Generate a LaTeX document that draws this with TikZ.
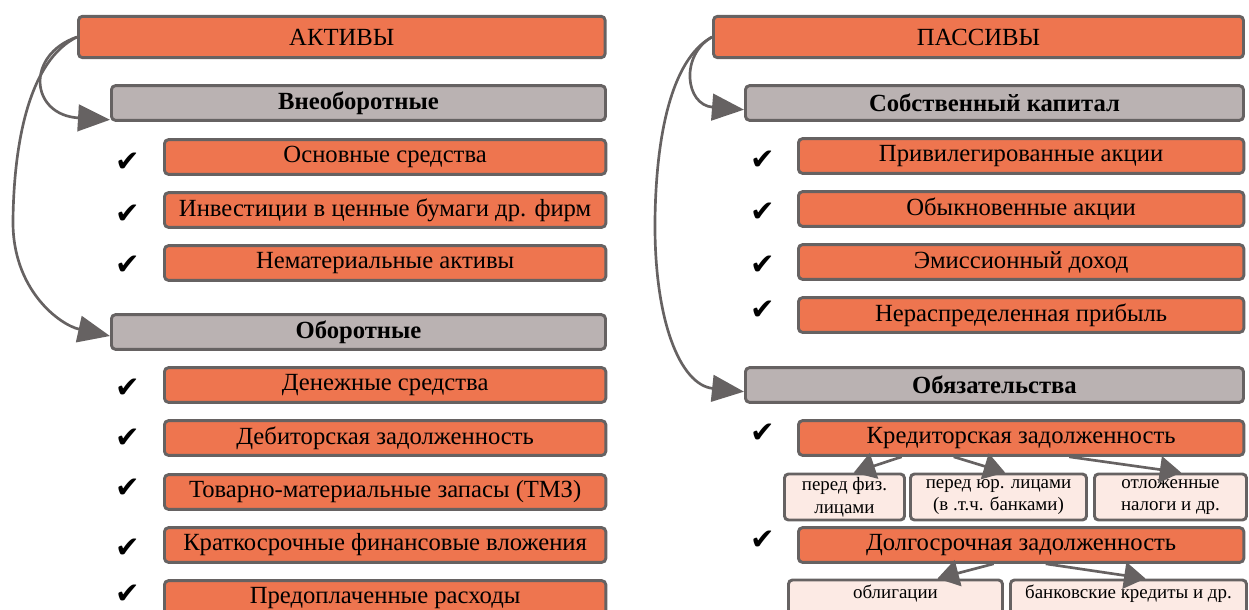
\documentclass[tikz,border=0pt]{standalone}
\usepackage{fontspec}
\setmainfont{Liberation Serif}
\newfontfamily\tickfont{DejaVu Sans}
\usetikzlibrary{arrows.meta}

\definecolor{boxorange}{RGB}{238,117,79}
\definecolor{boxgrey}{RGB}{186,178,178}
\definecolor{boxpink}{RGB}{252,234,228}
\definecolor{edgegrey}{RGB}{102,98,98}

\tikzset{
  basebox/.style={draw=edgegrey, line width=2.2pt, rounded corners=3pt, anchor=west,
    inner sep=0pt, minimum height=26pt},
  titlebox/.style={basebox, fill=boxorange, minimum height=31pt, font=\fontsize{18.5}{22}\selectfont},
  itembox/.style={basebox, fill=boxorange, font=\fontsize{18.5}{22}\selectfont},
  headbox/.style={basebox, fill=boxgrey, font=\fontsize{18.5}{22}\selectfont\bfseries},
  subbox/.style={basebox, fill=boxpink, minimum height=34.5pt, align=center,
    font=\fontsize{14.2}{17}\selectfont},
  tick/.style={font=\tickfont\fontsize{22}{22}\selectfont},
  bigarrow/.style={draw=edgegrey, line width=2pt, -{Triangle[length=24pt,width=20pt]}},
  subarrow/.style={draw=edgegrey, line width=2pt, -{Triangle[length=16pt,width=20pt]}},
}

\begin{document}
\begin{tikzpicture}[x=0.75pt,y=-0.75pt]
  \useasboundingbox (0,0) rectangle (1249,610);

  % assets
  \node[titlebox, minimum width=395pt] (aktivy) at (77,37) {АКТИВЫ};
  \node[headbox, minimum width=370.5pt] (vneob) at (110,103) {Внеоборотные};
  \node[itembox, minimum width=331pt] (osn) at (163,157) {Основные средства};
  \node[itembox, minimum width=331pt] (invest) at (163,210) {Инвестиции в ценные бумаги др. фирм};
  \node[itembox, minimum width=331pt] (nemat) at (163,263) {Нематериальные активы};
  \node[headbox, minimum width=370.5pt] (obor) at (110,332) {Оборотные};
  \node[itembox, minimum width=331pt] (den) at (163,385) {Денежные средства};
  \node[itembox, minimum width=331pt] (debit) at (163,438) {Дебиторская задолженность};
  \node[itembox, minimum width=331pt] (tmz) at (163,492) {Товарно-материальные запасы (ТМЗ)};
  \node[itembox, minimum width=331pt] (kratk) at (163,545) {Краткосрочные финансовые вложения};
  \node[itembox, minimum width=331pt] (predopl) at (163,598) {Предоплаченные расходы};

  \foreach \y in {162,214,265,388,438,488,548,594}
    \node[tick] at (128,\y) {✔};

  % liabilities
  \node[titlebox, minimum width=397.5pt] (passiv) at (712,37) {ПАССИВЫ};
  \node[headbox, minimum width=373.5pt] (sobst) at (744,103) {Собственный капитал};
  \node[itembox, minimum width=334pt] (priv) at (797,156) {Привилегированные акции};
  \node[itembox, minimum width=334pt] (obykn) at (797,209) {Обыкновенные акции};
  \node[itembox, minimum width=334pt] (emis) at (797,262) {Эмиссионный доход};
  \node[itembox, minimum width=334pt] (neras) at (797,315) {Нераспределенная прибыль};
  \node[headbox, minimum width=373.5pt] (obyaz) at (744,385) {Обязательства};
  \node[itembox, minimum width=334pt] (kredit) at (797,438) {Кредиторская задолженность};
  \node[subbox, minimum width=90pt] (fiz) at (783,497) {перед физ.\\лицами};
  \node[subbox, minimum width=132pt] (yur) at (909,497) {перед юр. лицами\\(в .т.ч. банками)};
  \node[subbox, minimum width=114pt] (otl) at (1093,497) {отложенные\\налоги и др.};
  \node[itembox, minimum width=334pt] (dolg) at (797,545) {Долгосрочная задолженность};
  \node[subbox, minimum width=160.5pt] (oblig) at (787,603) {облигации\\\phantom{x}};
  \node[subbox, minimum width=177pt] (bank) at (1009,603) {банковские кредиты и др.\\\phantom{x}};

  \foreach \y in {160,212,265,310,433,540}
    \node[tick] at (763,\y) {✔};

  % curved links
  \draw[bigarrow] (aktivy.west) .. controls (25,55) and (30,115) .. ([yshift=1.5pt]vneob.south west);
  \draw[bigarrow] (aktivy.west) .. controls (30,60) and (14,140) .. (13,220)
    .. controls (12,290) and (60,325) .. ([yshift=-3pt]obor.west);
  \draw[bigarrow] (passiv.west) .. controls (680,55) and (685,105) .. ([yshift=-5pt]sobst.west);
  \draw[bigarrow] (passiv.west) .. controls (670,60) and (656,140) .. (655,220)
    .. controls (654,320) and (680,385) .. ([yshift=-5pt]obyaz.west);

  % sub links
  \draw[subarrow] ([xshift=-89.6pt]kredit.south) -- ([xshift=7pt]fiz.north);
  \draw[subarrow] ([xshift=-50.6pt]kredit.south) -- ([xshift=5pt]yur.north);
  \draw[subarrow] ([xshift=36pt]kredit.south) -- ([xshift=8pt]otl.north);
  \draw[subarrow] ([xshift=-20.6pt]dolg.south) -- ([xshift=31.5pt]oblig.north);
  \draw[subarrow] ([xshift=18.4pt]dolg.south) -- ([xshift=12.75pt]bank.north);
\end{tikzpicture}
\end{document}
